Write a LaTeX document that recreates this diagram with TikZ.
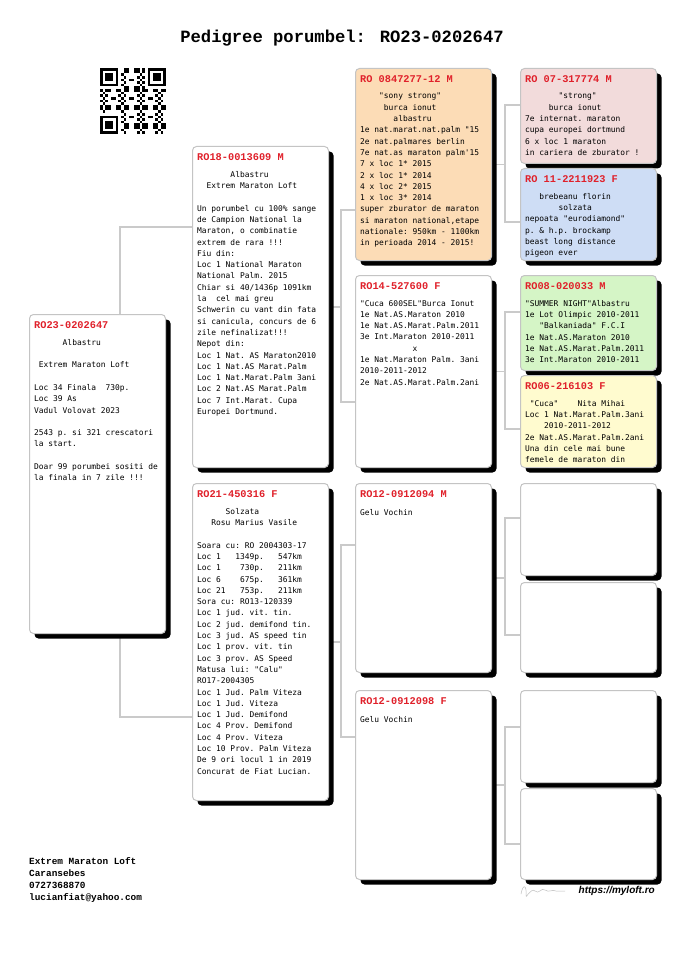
\documentclass[tikz,border=0pt]{standalone}
\usepackage{fontspec}
\setmonofont{DejaVu Sans Mono}
\newfontfamily\courbd{Liberation Mono}
\newfontfamily\arialfont{Liberation Sans}
\usetikzlibrary{shadows,backgrounds}

\definecolor{ringred}{HTML}{E0202A}
\definecolor{frame}{HTML}{C4C4C4}
\definecolor{wiregray}{HTML}{CACACA}
\definecolor{peach}{HTML}{FCDCB6}
\definecolor{rose}{HTML}{F2DBDB}
\definecolor{sky}{HTML}{CEDDF5}
\definecolor{mint}{HTML}{D5F5C6}
\definecolor{lemon}{HTML}{FFFBCF}

\newcommand{\pad}[1]{\hspace*{#1\fontcharwd\font`\0}}

\tikzset{
  card/.style={draw=frame, line width=1pt, rounded corners=4pt, fill=white, anchor=north west,
    minimum width=136pt, inner sep=0pt,
    drop shadow={shadow xshift=5pt, shadow yshift=-5pt, opacity=1, fill=black}},
  ring/.style={anchor=west, inner sep=0pt, text=ringred, font=\courbd\bfseries\fontsize{10.3}{12}\selectfont},
  info/.style={anchor=north west, inner sep=0pt, align=left, font=\ttfamily\fontsize{7.9}{11.3}\selectfont,
    execute at begin node={\rule{0pt}{7pt}}},
  wire/.style={draw=wiregray, line width=1.3pt}
}

\begin{document}
\begin{tikzpicture}[x=1pt, y=-1pt]
\useasboundingbox (0,0) rectangle (685,968);

\node[font=\courbd\bfseries\fontsize{17.2}{20}\selectfont] (title) at (342,38) {Pedigree porumbel: RO23-0202647};

% qr code
\begin{scope}[shift={(100,68)}, x=2.64pt, y=-2.64pt]
  \foreach \a/\b in {0/0,18/0,0/18} {
    \fill (\a,\b) rectangle +(7,7);
    \fill[white] (\a+1,\b+1) rectangle +(5,5);
    \fill (\a+2,\b+2) rectangle +(3,3);
  }
  \foreach \i in {0,...,24} {
    \foreach \j in {0,...,24} {
      \pgfmathtruncatemacro\bit{(mod(3*\i*\i+5*\j*\j+7*\i*\j+\i+2*\j,7)<3) && !((\i<8 && \j<8) || (\i>16 && \j<8) || (\i<8 && \j>16))}
      \ifnum\bit=1 \fill (\i,\j) rectangle +(1,1); \fi
    }
  }
\end{scope}

% generation 0 and 1
\node[card, minimum height=319pt] (bird) at (29,314) {};
\node[ring] (bird-ring) at ([xshift=5pt,yshift=-11pt]bird.north west) {RO23-0202647};
\node[info] (bird-info) at ([xshift=5pt,yshift=-25pt]bird.north west) {\pad{6}Albastru\\[11.3pt]
\pad{1}Extrem Maraton Loft\\[11.3pt]
Loc 34 Finala\pad{2}730p.\\
Loc 39 As\\
Vadul Volovat 2023\\[11.3pt]
2543 p. si 321 crescatori\\
la start.\\[11.3pt]
Doar 99 porumbei sositi de\\
la finala in 7 zile !!!};

\node[card, minimum height=321pt] (sire) at (192,146) {};
\node[ring] (sire-ring) at ([xshift=5pt,yshift=-11pt]sire.north west) {RO18-0013609 M};
\node[info] (sire-info) at ([xshift=5pt,yshift=-25pt]sire.north west) {\pad{7}Albastru\\
\pad{2}Extrem Maraton Loft\\[11.3pt]
Un porumbel cu 100\% sange\\
de Campion National la\\
Maraton, o combinatie\\
extrem de rara !!!\\
Fiu din:\\
Loc 1 National Maraton\\
National Palm. 2015\\
Chiar si 40/1436p 1091km\\
la\pad{2}cel mai greu\\
Schwerin cu vant din fata\\
si canicula, concurs de 6\\
zile nefinalizat!!!\\
Nepot din:\\
Loc 1 Nat. AS Maraton2010\\
Loc 1 Nat.AS Marat.Palm\\
Loc 1 Nat.Marat.Palm 3ani\\
Loc 2 Nat.AS Marat.Palm\\
Loc 7 Int.Marat. Cupa\\
Europei Dortmund.};

\node[card, minimum height=317pt] (dam) at (192,483) {};
\node[ring] (dam-ring) at ([xshift=5pt,yshift=-11pt]dam.north west) {RO21-450316 F};
\node[info] (dam-info) at ([xshift=5pt,yshift=-25pt]dam.north west) {\pad{6}Solzata\\
\pad{3}Rosu Marius Vasile\\[11.3pt]
Soara cu: RO 2004303-17\\
Loc 1\pad{3}1349p.\pad{3}547km\\
Loc 1\pad{4}730p.\pad{3}211km\\
Loc 6\pad{4}675p.\pad{3}361km\\
Loc 21\pad{3}753p.\pad{3}211km\\
Sora cu: RO13-120339\\
Loc 1 jud. vit. tin.\\
Loc 2 jud. demifond tin.\\
Loc 3 jud. AS speed tin\\
Loc 1 prov. vit. tin\\
Loc 3 prov. AS Speed\\
Matusa lui: "Calu"\\
RO17-2004305\\
Loc 1 Jud. Palm Viteza\\
Loc 1 Jud. Viteza\\
Loc 1 Jud. Demifond\\
Loc 4 Prov. Demifond\\
Loc 4 Prov. Viteza\\
Loc 10 Prov. Palm Viteza\\
De 9 ori locul 1 in 2019\\
Concurat de Fiat Lucian.};

% generation 2
\node[card, fill=peach, minimum height=192pt] (ss) at (355,68) {};
\node[ring] (ss-ring) at ([xshift=5pt,yshift=-11pt]ss.north west) {RO 0847277-12 M};
\node[info] (ss-info) at ([xshift=5pt,yshift=-25pt]ss.north west) {\pad{4}"sony strong"\\
\pad{5}burca ionut\\
\pad{7}albastru\\
1e nat.marat.nat.palm "15\\
2e nat.palmares berlin\\
7e nat.as maraton palm'15\\
7 x loc 1* 2015\\
2 x loc 1* 2014\\
4 x loc 2* 2015\\
1 x loc 3* 2014\\
super zburator de maraton\\
si maraton national,etape\\
nationale: 950km - 1100km\\
in perioada 2014 - 2015!};

\node[card, minimum height=192pt] (sd) at (355,275) {};
\node[ring] (sd-ring) at ([xshift=5pt,yshift=-11pt]sd.north west) {RO14-527600 F};
\node[info] (sd-info) at ([xshift=5pt,yshift=-25pt]sd.north west) {"Cuca 600SEL"Burca Ionut\\
1e Nat.AS.Maraton 2010\\
1e Nat.AS.Marat.Palm.2011\\
3e Int.Maraton 2010-2011\\
\pad{11}x\\
1e Nat.Maraton Palm. 3ani\\
2010-2011-2012\\
2e Nat.AS.Marat.Palm.2ani};

\node[card, minimum height=189pt] (ds) at (355,483) {};
\node[ring] (ds-ring) at ([xshift=5pt,yshift=-11pt]ds.north west) {RO12-0912094 M};
\node[info] (ds-info) at ([xshift=5pt,yshift=-25pt]ds.north west) {Gelu Vochin};

\node[card, minimum height=189pt] (dd) at (355,690) {};
\node[ring] (dd-ring) at ([xshift=5pt,yshift=-11pt]dd.north west) {RO12-0912098 F};
\node[info] (dd-info) at ([xshift=5pt,yshift=-25pt]dd.north west) {Gelu Vochin};

% generation 3
\node[card, fill=rose, minimum height=95pt] (sss) at (520,68) {};
\node[ring] (sss-ring) at ([xshift=5pt,yshift=-11pt]sss.north west) {RO 07-317774 M};
\node[info] (sss-info) at ([xshift=5pt,yshift=-25pt]sss.north west) {\pad{7}"strong"\\
\pad{5}burca ionut\\
7e internat. maraton\\
cupa europei dortmund\\
6 x loc 1 maraton\\
in cariera de zburator !};

\node[card, fill=sky, minimum height=92pt] (ssd) at (520,168) {};
\node[ring] (ssd-ring) at ([xshift=5pt,yshift=-11pt]ssd.north west) {RO 11-2211923 F};
\node[info] (ssd-info) at ([xshift=5pt,yshift=-25pt]ssd.north west) {\pad{3}brebeanu florin\\
\pad{7}solzata\\
nepoata "eurodiamond"\\
p. \& h.p. brockamp\\
beast long distance\\
pigeon ever};

\node[card, fill=mint, minimum height=95pt] (sds) at (520,275) {};
\node[ring] (sds-ring) at ([xshift=5pt,yshift=-11pt]sds.north west) {RO08-020033 M};
\node[info] (sds-info) at ([xshift=5pt,yshift=-25pt]sds.north west) {"SUMMER NIGHT"Albastru\\
1e Lot Olimpic 2010-2011\\
\pad{3}"Balkaniada" F.C.I\\
1e Nat.AS.Maraton 2010\\
1e Nat.AS.Marat.Palm.2011\\
3e Int.Maraton 2010-2011};

\node[card, fill=lemon, minimum height=92pt] (sdd) at (520,375) {};
\node[ring] (sdd-ring) at ([xshift=5pt,yshift=-11pt]sdd.north west) {RO06-216103 F};
\node[info] (sdd-info) at ([xshift=5pt,yshift=-25pt]sdd.north west) {\pad{1}"Cuca"\pad{4}Nita Mihai\\
Loc 1 Nat.Marat.Palm.3ani\\
\pad{4}2010-2011-2012\\
2e Nat.AS.Marat.Palm.2ani\\
Una din cele mai bune\\
femele de maraton din};

\node[card, minimum height=92pt] (dss) at (520,483) {};
\node[card, minimum height=90pt] (dsd) at (520,582) {};
\node[card, minimum height=92pt] (dds) at (520,690) {};
\node[card, minimum height=91pt] (ddd) at (520,788) {};

% footer
\node[anchor=north west, inner sep=0pt, align=left, font=\courbd\bfseries\fontsize{9.4}{12}\selectfont,
  execute at begin node={\rule{0pt}{7pt}}] (loft) at (29,857) {Extrem Maraton Loft\\Caransebes\\0727368870\\lucianfiat@yahoo.com};
\node[anchor=east, inner sep=0pt, font=\arialfont\bfseries\itshape\fontsize{10}{12}\selectfont] (web) at (655,891) {https://myloft.ro};
\draw[gray!50, line width=0.5pt] (521,894) .. controls (523,883) and (527,885) .. (526,896)
  .. controls (525,900) and (531,887) .. (535,891) .. controls (539,895) and (541,887) .. (545,890)
  .. controls (549,893) and (552,889) .. (556,891) -- (565,891);

\begin{pgfonlayer}{background}
  \fill[white] (0,0) rectangle (685,968);
  \coordinate (j0) at (120,472);
  \draw[wire] (sire.west |- 0,227) -| (j0) |- (dam.west |- 0,717);
  \coordinate (js) at (sire.east -| 341,0);
  \draw[wire] (sire.east) -- (js);
  \draw[wire] (ss.west |- 0,210) -| (js) |- (sd.west |- 0,402);
  \coordinate (jd) at (dam.east -| 341,0);
  \draw[wire] (dam.east) -- (jd);
  \draw[wire] (ds.west |- 0,545) -| (jd) |- (dd.west |- 0,737);
  \coordinate (jss) at (ss.east -| 505,0);
  \draw[wire] (ss.east) -- (jss);
  \draw[wire] (sss.west |- 0,105) -| (jss) |- (ssd.west |- 0,222);
  \coordinate (jsd) at (sd.east -| 505,0);
  \draw[wire] (sd.east) -- (jsd);
  \draw[wire] (sds.west |- 0,312) -| (jsd) |- (sdd.west |- 0,429);
  \coordinate (jds) at (ds.east -| 505,0);
  \draw[wire] (ds.east) -- (jds);
  \draw[wire] (dss.west |- 0,518) -| (jds) |- (dsd.west |- 0,635);
  \coordinate (jdd) at (dd.east -| 505,0);
  \draw[wire] (dd.east) -- (jdd);
  \draw[wire] (dds.west |- 0,727) -| (jdd) |- (ddd.west |- 0,844);
\end{pgfonlayer}
\end{tikzpicture}
\end{document}
